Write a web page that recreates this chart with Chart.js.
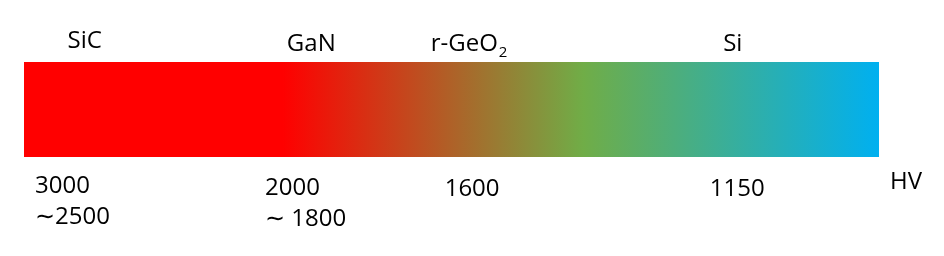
<!DOCTYPE html>
<html>
<head>
<meta charset="utf-8">
<script src="https://cdn.jsdelivr.net/npm/chart.js@4/dist/chart.umd.min.js"></script>
<style>
html,body{margin:0;padding:0;background:#fff;}
#wrap{width:944px;height:256px;}
</style>
</head>
<body>
<div id="wrap"><canvas id="c" width="944" height="256"></canvas></div>
<script>
// Scale: relative position along the hardness bar (0 = hardest, 100 = softest)
const barRange = [0, 100];
const materials = ['SiC', 'GaN', 'r-GeO', 'Si'];
const materialSub = ['', '', '2', ''];
const materialPos = [7.1, 33.6, 52.0, 82.9];
const materialRaise = [14, 11, 11, 11];
const hardnessLabels = [['3000', '\u223c2500'], ['2000', '\u223c 1800'], ['1600'], ['1150']];
const hardnessPos = [1.3, 28.2, 49.2, 80.2];
const hardnessDrop = [36, 38, 39, 39];
const unitLabel = 'HV';
const gradientStops = [[0, '#ff0000'], [0.303, '#ff0000'], [0.654, '#70ad47'], [1, '#00b0f0']];

const FONT = '"Open Sans", "Noto Sans", sans-serif';

const labelPlugin = {
  id: 'labels',
  afterDatasetsDraw(chart) {
    const ctx = chart.ctx;
    const xs = chart.scales.x;
    const area = chart.chartArea;
    ctx.save();
    ctx.fillStyle = '#000';
    ctx.textBaseline = 'alphabetic';
    ctx.textAlign = 'left';
    materials.forEach((m, i) => {
      const x = xs.getPixelForValue(materialPos[i]);
      ctx.font = '24px ' + FONT;
      const w = ctx.measureText(m).width;
      let sw = 0;
      if (materialSub[i]) { ctx.font = '15px ' + FONT; sw = ctx.measureText(materialSub[i]).width; }
      const left = x - (w + sw) / 2;
      const base = area.top - materialRaise[i];
      ctx.font = '24px ' + FONT;
      ctx.fillText(m, left, base);
      if (materialSub[i]) {
        ctx.font = '15px ' + FONT;
        ctx.fillText(materialSub[i], left + w + 1, base + 6);
      }
    });
    ctx.font = '24px ' + FONT;
    hardnessLabels.forEach((lines, i) => {
      const x = xs.getPixelForValue(hardnessPos[i]);
      const base = area.bottom + hardnessDrop[i];
      lines.forEach((t, j) => {
        ctx.fillText(t, x, base + j * 31);
      });
    });
    ctx.fillText(unitLabel, area.right + 11, area.bottom + 32);
    ctx.restore();
  }
};

new Chart(document.getElementById('c'), {
  type: 'bar',
  data: {
    labels: ['hardness'],
    datasets: [{
      data: [barRange],
      borderWidth: 0,
      barPercentage: 1,
      categoryPercentage: 1,
      backgroundColor(context) {
        const area = context.chart.chartArea;
        if (!area) return '#ff0000';
        const xs = context.chart.scales.x;
        const g = context.chart.ctx.createLinearGradient(
          xs.getPixelForValue(barRange[0]), 0, xs.getPixelForValue(barRange[1]), 0);
        gradientStops.forEach(s => g.addColorStop(s[0], s[1]));
        return g;
      }
    }]
  },
  options: {
    indexAxis: 'y',
    responsive: false,
    animation: false,
    events: [],
    layout: { padding: { left: 24, right: 65, top: 62, bottom: 99 } },
    scales: {
      x: { type: 'linear', min: barRange[0], max: barRange[1], display: false },
      y: { display: false }
    },
    plugins: { legend: { display: false }, tooltip: { enabled: false } }
  },
  plugins: [labelPlugin]
});
</script>
</body>
</html>
